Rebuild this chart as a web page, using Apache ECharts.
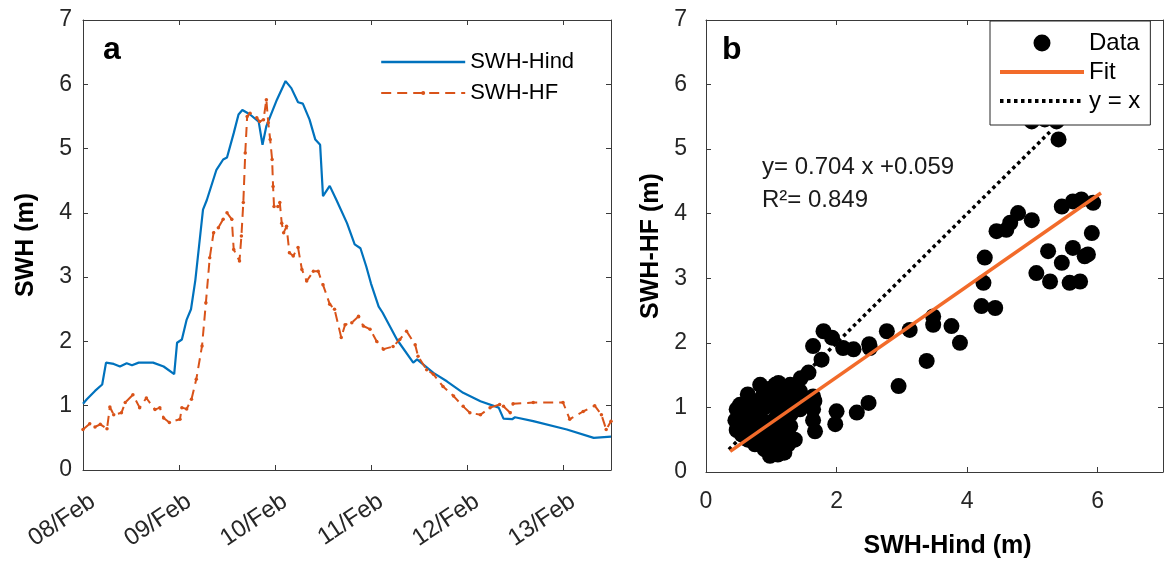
<!DOCTYPE html>
<html>
<head>
<meta charset="utf-8">
<script src="https://cdn.jsdelivr.net/npm/echarts@6/dist/echarts.min.js"></script>
<style>
html,body{margin:0;padding:0;background:#fff;}
#main{width:1170px;height:567px;}
</style>
</head>
<body>
<div id="main"></div>
<script>
// panel a: days since 08/Feb 00:00, SWH in m
const dayLabels=['08/Feb','09/Feb','10/Feb','11/Feb','12/Feb','13/Feb'];
const swhHind=[[0,1.03],[0.04,1.1],[0.125,1.23],[0.2,1.33],[0.24,1.67],[0.32,1.65],[0.385,1.61],[0.455,1.66],[0.51,1.63],[0.58,1.67],[0.73,1.67],[0.84,1.61],[0.95,1.49],[0.98,1.98],[1.03,2.03],[1.08,2.34],[1.125,2.5],[1.17,2.95],[1.21,3.5],[1.25,4.05],[1.29,4.2],[1.39,4.67],[1.46,4.83],[1.5,4.86],[1.57,5.24],[1.62,5.53],[1.66,5.6],[1.74,5.53],[1.83,5.42],[1.87,5.06],[1.91,5.35],[2.02,5.76],[2.11,6.05],[2.17,5.94],[2.24,5.72],[2.29,5.7],[2.36,5.45],[2.42,5.14],[2.47,5.06],[2.5,4.26],[2.57,4.42],[2.64,4.2],[2.75,3.84],[2.83,3.51],[2.89,3.45],[2.95,3.17],[3.0,2.9],[3.08,2.54],[3.12,2.45],[3.27,2.03],[3.44,1.67],[3.48,1.72],[3.65,1.51],[3.79,1.38],[3.96,1.2],[4.14,1.07],[4.33,0.97],[4.38,0.8],[4.47,0.79],[4.5,0.82],[4.69,0.76],[5.04,0.63],[5.32,0.5],[5.5,0.52]];
const swhHF=[[0,0.63],[0.07,0.72],[0.125,0.67],[0.18,0.71],[0.25,0.64],[0.28,0.98],[0.32,0.86],[0.4,0.89],[0.44,1.05],[0.52,1.17],[0.59,0.97],[0.66,1.12],[0.75,0.94],[0.8,0.97],[0.84,0.81],[0.9,0.74],[1.01,0.79],[1.03,0.97],[1.08,0.95],[1.13,1.1],[1.18,1.41],[1.24,1.93],[1.28,2.6],[1.32,3.3],[1.36,3.69],[1.41,3.77],[1.46,3.9],[1.5,4.0],[1.55,3.9],[1.57,3.43],[1.63,3.25],[1.65,3.64],[1.67,4.16],[1.69,4.93],[1.71,5.5],[1.74,5.55],[1.81,5.48],[1.84,5.42],[1.88,5.45],[1.91,5.76],[1.93,5.4],[1.95,5.14],[1.97,4.83],[1.98,4.41],[1.99,4.1],[2.03,4.1],[2.05,4.16],[2.07,3.84],[2.09,3.69],[2.12,3.79],[2.15,3.38],[2.19,3.33],[2.24,3.46],[2.28,3.12],[2.33,2.94],[2.4,3.09],[2.45,3.09],[2.5,2.88],[2.57,2.58],[2.62,2.5],[2.69,2.06],[2.73,2.26],[2.8,2.29],[2.87,2.39],[2.92,2.24],[2.99,2.19],[3.06,2.0],[3.13,1.88],[3.23,1.92],[3.3,2.03],[3.37,2.16],[3.46,1.95],[3.49,1.77],[3.58,1.56],[3.65,1.49],[3.75,1.3],[3.86,1.15],[3.96,0.99],[4.03,0.89],[4.14,0.86],[4.24,0.97],[4.34,1.02],[4.38,0.99],[4.45,0.89],[4.48,1.03],[4.69,1.05],[5.0,1.05],[5.07,0.79],[5.21,0.91],[5.33,1.0],[5.4,0.86],[5.45,0.63],[5.5,0.76]];

// panel b: [SWH-Hind, SWH-HF]
const scatterData=[[4.99,5.43],[5.19,5.46],[5.37,5.43],[5.4,5.15],[5.45,4.11],[5.62,4.19],[5.75,4.22],[5.93,4.17],[5.91,3.7],[5.85,3.37],[5.62,3.47],[5.45,3.24],[5.24,3.42],[4.78,4.01],[4.66,3.86],[4.99,3.9],[4.45,3.73],[4.6,3.75],[4.27,3.32],[5.06,3.08],[5.27,2.95],[5.57,2.93],[5.73,2.95],[5.8,3.34],[4.25,2.93],[4.22,2.57],[4.43,2.54],[3.89,2.0],[3.76,2.26],[3.48,2.28],[3.48,2.41],[3.38,1.72],[3.12,2.2],[2.77,2.18],[2.95,1.33],[2.51,1.92],[2.5,1.98],[2.49,1.07],[2.31,0.92],[2.0,0.94],[1.98,0.74],[2.26,1.9],[2.1,1.92],[1.93,2.08],[1.8,2.18],[1.64,1.95],[1.77,1.74],[1.57,1.54],[1.64,1.17],[1.67,0.63],[1.64,0.97],[1.64,0.8],[1.66,1.1],[1.11,1.38],[0.98,1.28],[1.34,1.17],[1.29,0.71],[1.44,0.97],[1.0,0.3],[1.13,0.4],[0.47,0.97],[0.47,0.65],[0.45,0.8],[0.52,1.04],[0.52,0.81],[0.55,0.58],[0.64,1.2],[0.67,0.94],[0.7,0.69],[0.75,0.43],[0.83,1.12],[0.83,0.84],[0.86,0.58],[0.9,0.35],[0.95,1.28],[0.98,1.04],[1.01,0.78],[1.06,0.5],[1.1,0.27],[1.13,1.2],[1.16,0.94],[1.21,0.66],[1.26,0.43],[1.29,1.35],[1.32,1.12],[1.36,0.97],[1.36,0.5],[1.2,0.3],[1.06,1.35],[0.83,1.35],[0.64,0.5],[1.44,1.25],[0.98,0.25],[0.6,0.75],[0.6,1.05],[0.75,0.95],[0.75,0.65],[0.9,0.75],[0.9,1.0],[0.95,0.55],[1.05,0.65],[1.1,1.05],[1.2,0.85],[1.25,1.05],[0.7,0.85],[0.58,0.88],[0.8,0.5],[1.0,0.45],[1.15,0.55],[0.88,1.2],[1.0,1.15],[0.7,1.1],[0.85,0.42],[1.08,0.85],[1.3,0.9],[1.45,1.45],[1.55,1.05]];
const fitLine=[[0.37,0.32],[6.05,4.32]];
const oneToOne=[[0.35,0.35],[5.3,5.3]];

const font='Liberation Sans';
const axisCol='#3a3a3a';
const tickCol='#262626';

function boxAxis(grid,pos,min,max,interval,extra){
  return Object.assign({
    gridIndex:grid,type:'value',position:pos,min:min,max:max,interval:interval,
    axisLine:{show:true,onZero:false,lineStyle:{color:axisCol,width:1}},
    axisTick:{show:true,inside:true,length:5,lineStyle:{color:axisCol}},
    splitLine:{show:false},
    axisLabel:{show:false}
  },extra||{});
}
const nameStyle={fontFamily:font,fontSize:25,fontWeight:'bold',color:'#000'};
const labelStyle={fontFamily:font,fontSize:23,color:tickCol};
const noDot={opacity:0};

const chart=echarts.init(document.getElementById('main'));
chart.setOption({
  animation:false,
  backgroundColor:'#fff',
  grid:[
    {left:83,top:20,width:528,height:450},
    {left:706,top:20,width:457,height:452}
  ],
  xAxis:[
    boxAxis(0,'bottom',0,5.5,1,{axisLabel:Object.assign({show:true,rotate:34,margin:36,padding:[0,-12,0,0],showMaxLabel:false,
      formatter:v=>Math.abs(v-Math.round(v))<1e-6?dayLabels[Math.round(v)]:''},labelStyle,{fontSize:24})}),
    boxAxis(0,'top',0,5.5,1),
    boxAxis(1,'bottom',0,7,2,{name:'SWH-Hind (m)',nameLocation:'middle',nameGap:62,
      nameTextStyle:Object.assign({padding:[0,0,0,26]},nameStyle),
      axisLabel:Object.assign({show:true,margin:18,showMaxLabel:false},labelStyle)}),
    boxAxis(1,'top',0,7,2)
  ],
  yAxis:[
    boxAxis(0,'left',0,7,1,{name:'SWH (m)',nameLocation:'middle',nameGap:44,nameTextStyle:nameStyle,
      axisLabel:Object.assign({show:true,margin:11},labelStyle)}),
    boxAxis(0,'right',0,7,1),
    boxAxis(1,'left',0,7,1,{name:'SWH-HF (m)',nameLocation:'middle',nameGap:42,nameTextStyle:nameStyle,
      axisLabel:Object.assign({show:true,margin:19},labelStyle)}),
    boxAxis(1,'right',0,7,1)
  ],
  legend:[
    {data:[{name:'SWH-Hind',itemStyle:noDot,lineStyle:{width:2.4}},{name:'SWH-HF',lineStyle:{width:2.2}}],
      orient:'vertical',left:380,top:51,padding:0,itemWidth:84,itemHeight:5,itemGap:9,
      selectedMode:false,textStyle:{fontFamily:font,fontSize:22,color:'#000'}},
    {data:[{name:'Data',icon:'circle'},{name:'Fit',itemStyle:noDot,lineStyle:{width:4}},{name:'y = x',itemStyle:noDot,lineStyle:{width:4}}],
      orient:'vertical',left:990,top:21,itemWidth:84,itemHeight:17,itemGap:5,
      padding:[10,10,12,8],backgroundColor:'#fff',borderColor:'#262626',borderWidth:1,borderRadius:0,
      selectedMode:false,textStyle:{fontFamily:font,fontSize:24,color:'#000'}}
  ],
  graphic:[
    {type:'text',left:103,top:34,style:{text:'a',font:'bold 32px "Liberation Sans"',fill:'#000'}},
    {type:'text',left:722,top:34,style:{text:'b',font:'bold 32px "Liberation Sans"',fill:'#000'}},
    {type:'text',left:762,top:155,style:{text:'y= 0.704 x +0.059',font:'24px "Liberation Sans"',fill:'#1a1a1a'}},
    {type:'text',left:762,top:188,style:{text:'R²= 0.849',font:'24px "Liberation Sans"',fill:'#1a1a1a'}}
  ],
  series:[
    {name:'SWH-Hind',type:'line',xAxisIndex:0,yAxisIndex:0,data:swhHind,symbol:'none',
      lineStyle:{color:'#0072BD',width:2.2},itemStyle:{color:'#0072BD'}},
    {name:'SWH-HF',type:'line',xAxisIndex:0,yAxisIndex:0,data:swhHF,symbol:'circle',symbolSize:3.5,showAllSymbol:true,
      lineStyle:{color:'#D95319',width:2,type:[10,6]},itemStyle:{color:'#D95319'}},
    {name:'y = x',type:'line',xAxisIndex:2,yAxisIndex:2,data:oneToOne,symbol:'none',
      lineStyle:{color:'#000',width:3.5,type:[3.5,3.5]},itemStyle:{color:'#000'}},
    {name:'Fit',type:'line',xAxisIndex:2,yAxisIndex:2,data:fitLine,symbol:'none',
      lineStyle:{color:'#F26B2A',width:3.5},itemStyle:{color:'#F26B2A'}},
    {name:'Data',type:'scatter',xAxisIndex:2,yAxisIndex:2,data:scatterData,symbol:'circle',symbolSize:16,
      itemStyle:{color:'#000',opacity:1}}
  ]
});
</script>
</body>
</html>
